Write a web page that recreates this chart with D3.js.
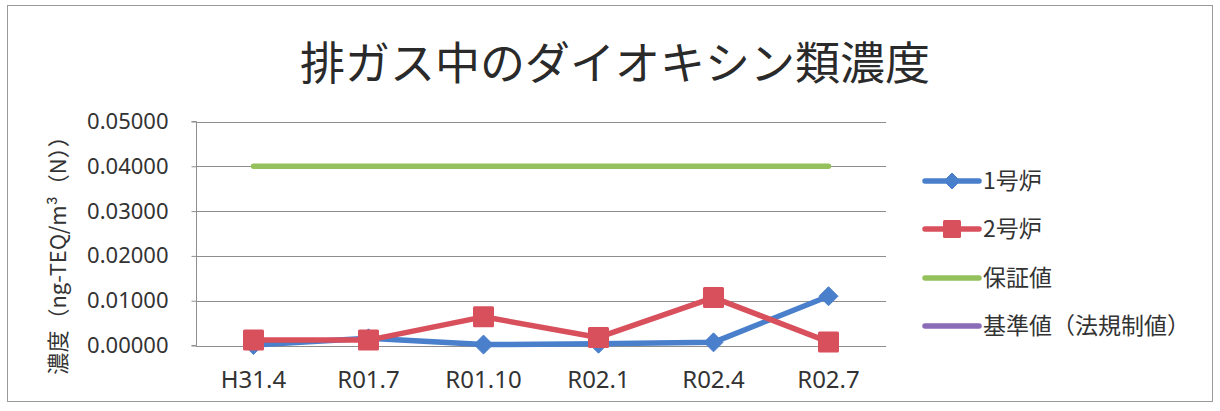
<!DOCTYPE html>
<html>
<head>
<meta charset="utf-8">
<script src="https://cdn.jsdelivr.net/npm/d3@7"></script>
<style>
  html, body { margin: 0; padding: 0; background: #ffffff; }
  svg { display: block; }
  text { font-family: "Noto Sans CJK JP", "Noto Sans", sans-serif; fill: #333; }
</style>
</head>
<body>
<svg id="chart" width="1220" height="411"></svg>
<script>
// Sampling dates
const categories = ["H31.4", "R01.7", "R01.10", "R02.1", "R02.4", "R02.7"];
// Dioxin concentration, ng-TEQ/m3(N)
const unit1 = [0.0001, 0.0016, 0.0002, 0.0004, 0.0007, 0.0110];
const unit2 = [0.0012, 0.0012, 0.0064, 0.0018, 0.0107, 0.0008];
const guaranteeValue = [0.04, 0.04, 0.04, 0.04, 0.04, 0.04];
const legalLimit = [0.1, 0.1, 0.1, 0.1, 0.1, 0.1];
const yTicks = [0, 0.01, 0.02, 0.03, 0.04, 0.05];
const seriesNames = ["1号炉", "2号炉", "保証値", "基準値（法規制値）"];

const series = [
  { name: seriesNames[0], values: unit1, color: "#4a7fcc", marker: "diamond" },
  { name: seriesNames[1], values: unit2, color: "#d9505d", marker: "square" },
  { name: seriesNames[2], values: guaranteeValue, color: "#94c15c", marker: null },
  { name: seriesNames[3], values: legalLimit, color: "#8a6cb8", marker: null }
];

const svg = d3.select("#chart");

// outer frame
svg.append("rect")
  .attr("x", 7.5).attr("y", 5.5)
  .attr("width", 1205).attr("height", 396)
  .attr("fill", "none").attr("stroke", "#9a9a9a").attr("stroke-width", 1);

// title
svg.append("text")
  .attr("x", 615).attr("y", 80)
  .attr("text-anchor", "middle")
  .style("font-size", "45px")
  .style("fill", "#2a2a2a")
  .text("排ガス中のダイオキシン類濃度");

const plot = { left: 196, right: 886, top: 121.5, bottom: 345.5 };

const x = d3.scaleBand().domain(categories).range([plot.left, plot.right]);
const cx = d => x(d) + x.bandwidth() / 2;
const y = d3.scaleLinear().domain([0, 0.05]).range([plot.bottom, plot.top]);

// gridlines
svg.append("g")
  .selectAll("line")
  .data(yTicks)
  .join("line")
  .attr("x1", plot.left).attr("x2", plot.right)
  .attr("y1", d => Math.round(y(d)) + 0.5).attr("y2", d => Math.round(y(d)) + 0.5)
  .attr("stroke", "#8e8e8e").attr("stroke-width", 1);

// y axis
const yAxis = svg.append("g")
  .attr("transform", `translate(${plot.left + 0.5},0)`)
  .call(d3.axisLeft(y).tickValues(yTicks).tickFormat(d3.format(".5f")).tickSize(5).tickPadding(23));
yAxis.select(".domain").attr("stroke", "#8e8e8e").attr("d", `M-5,${plot.top}H0V${plot.bottom}H-5`);
yAxis.selectAll(".tick line").attr("stroke", "#8e8e8e");
yAxis.selectAll(".tick text")
  .style("font-family", "'Noto Sans', sans-serif")
  .style("font-size", "22px")
  .style("fill", "#333");

// x axis labels
svg.append("g")
  .selectAll("text")
  .data(categories)
  .join("text")
  .attr("x", d => cx(d))
  .attr("y", 388)
  .attr("text-anchor", "middle")
  .style("font-family", "'Noto Sans', sans-serif")
  .style("font-size", "24px")
  .text(d => d);

// y axis title
svg.append("text")
  .attr("transform", "translate(66,250) rotate(-90)")
  .attr("text-anchor", "middle")
  .style("font-size", "22px")
  .text("濃度（ng-TEQ/m³（N））");

// series lines, clipped to the plot area
svg.append("clipPath").attr("id", "plotClip")
  .append("rect")
  .attr("x", plot.left).attr("y", plot.top - 12)
  .attr("width", plot.right - plot.left).attr("height", plot.bottom - plot.top + 24);

const line = d3.line().x((d, i) => cx(categories[i])).y(d => y(d));

const drawOrder = [2, 3, 0, 1];
const gSeries = svg.append("g").attr("clip-path", "url(#plotClip)");
drawOrder.forEach(k => {
  const s = series[k];
  gSeries.append("path")
    .datum(s.values)
    .attr("d", line)
    .attr("fill", "none")
    .attr("stroke", s.color)
    .attr("stroke-width", 5.5)
    .attr("stroke-linejoin", "round")
    .attr("stroke-linecap", "round");
});

function drawMarker(g, type, px, py, color, size) {
  if (type === "diamond") {
    const h = size / 2;
    g.append("path")
      .attr("d", `M${px},${py - h}L${px + h},${py}L${px},${py + h}L${px - h},${py}Z`)
      .attr("fill", color).attr("stroke", color).attr("stroke-width", 1).attr("stroke-linejoin", "round");
  } else if (type === "square") {
    const h = size / 2;
    g.append("rect")
      .attr("x", px - h).attr("y", py - h)
      .attr("width", size).attr("height", size)
      .attr("rx", 1.5)
      .attr("fill", color);
  }
}

drawOrder.forEach(k => {
  const s = series[k];
  if (!s.marker) return;
  s.values.forEach((v, i) => {
    drawMarker(gSeries, s.marker, cx(categories[i]), y(v), s.color, s.marker === "diamond" ? 19 : 21);
  });
});

// legend
const legendY = [181, 229, 278, 326];
const legend = svg.append("g");
series.forEach((s, i) => {
  const ly = legendY[i];
  legend.append("line")
    .attr("x1", 925).attr("x2", 979)
    .attr("y1", ly).attr("y2", ly)
    .attr("stroke", s.color).attr("stroke-width", 5.5)
    .attr("stroke-linecap", "round");
  if (s.marker) drawMarker(legend, s.marker, 952, ly, s.color, s.marker === "diamond" ? 16 : 18);
  legend.append("text")
    .attr("x", 983).attr("y", ly + 8)
    .style("font-size", "23px")
    .text(s.name);
});
</script>
</body>
</html>
